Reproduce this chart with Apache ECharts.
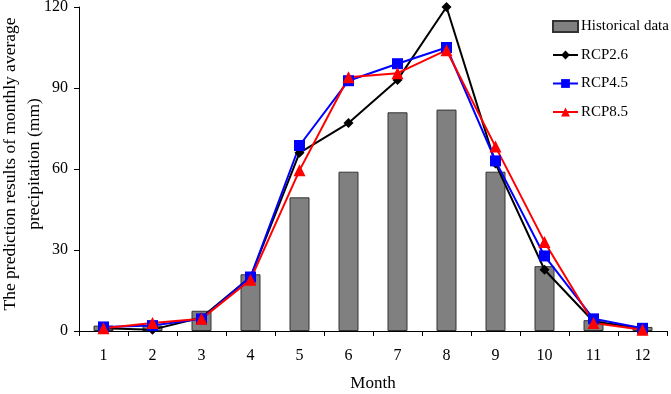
<!DOCTYPE html>
<html>
<head>
<meta charset="utf-8">
<script src="https://cdn.jsdelivr.net/npm/echarts@6/dist/echarts.min.js"></script>
<style>html,body{margin:0;padding:0;background:#fff;}#c{width:671px;height:394px;}</style>
</head>
<body>
<div id="c"></div>
<script>
const months = ['1','2','3','4','5','6','7','8','9','10','11','12'];
const historical = [2, 2, 7.5, 21, 49.5, 59, 81, 82, 59, 24, 4, 1.5];
const rcp26 = [1, 0.5, 5, 20, 66, 77, 93, 120, 62, 22.7, 3.5, 1];
const rcp45 = [1.5, 2, 4.5, 20, 68.7, 92.7, 99, 105, 63, 27.8, 4.5, 1];
const rcp85 = [1, 3, 4.5, 19, 59.5, 94, 95.5, 104, 68.3, 33, 3, 0.5];
const yTicks = [0, 30, 60, 90, 120];

const font = 'Liberation Serif';
const chart = echarts.init(document.getElementById('c'), null, {renderer: 'canvas'});
chart.setOption({
  animation: false,
  backgroundColor: '#fff',
  textStyle: {fontFamily: font, color: '#000'},
  grid: {left: 79, top: 7, right: 4, bottom: 63, containLabel: false, outerBoundsMode: 'none'},
  legend: {
    orient: 'vertical', left: 552, top: 19, padding: 0,
    itemWidth: 25, itemHeight: 11, itemGap: 13.5,
    textStyle: {fontFamily: font, fontSize: 15, color: '#000', padding: [0,0,0,-2]},
    data: [
      {name: 'Historical data', icon: 'rect'},
      {name: 'RCP2.6'}, {name: 'RCP4.5'}, {name: 'RCP8.5'}
    ]
  },
  xAxis: {
    type: 'category', data: months,
    name: 'Month', nameLocation: 'middle', nameGap: 44, nameMoveOverlap: false,
    nameTextStyle: {fontFamily: font, fontSize: 17, color: '#000'},
    axisLine: {lineStyle: {color: '#000', width: 1}},
    axisTick: {show: true, length: 5, inside: false, lineStyle: {color: '#000'}},
    axisLabel: {fontFamily: font, fontSize: 16, color: '#000', margin: 17}
  },
  yAxis: {
    type: 'value', min: 0, max: 120, interval: 30,
    name: 'The prediction results of monthly average\nprecipitation (mm)',
    nameLocation: 'middle', nameGap: 33, nameRotate: 90, nameMoveOverlap: false,
    nameTextStyle: {fontFamily: font, fontSize: 17.5, color: '#000', lineHeight: 24, align: 'center',
      padding: [0, 0, 0, 10]},
    axisLine: {show: true, lineStyle: {color: '#000', width: 1}},
    axisTick: {show: true, length: 5, lineStyle: {color: '#000'}},
    splitLine: {show: false},
    axisLabel: {fontFamily: font, fontSize: 16, color: '#000', margin: 11,
      formatter: v => yTicks.includes(v) ? String(v) : ''}
  },
  series: [
    {name: 'Historical data', type: 'bar', data: historical, barWidth: 20,
      itemStyle: {color: '#808080', borderColor: '#333', borderWidth: 1}},
    {name: 'RCP2.6', type: 'line', data: rcp26, symbol: 'diamond', symbolSize: 10,
      lineStyle: {color: '#000', width: 2}, itemStyle: {color: '#000'}},
    {name: 'RCP4.5', type: 'line', data: rcp45, symbol: 'rect', symbolSize: 11,
      lineStyle: {color: '#0000ff', width: 2}, itemStyle: {color: '#0000ff'}},
    {name: 'RCP8.5', type: 'line', data: rcp85, symbol: 'triangle', symbolSize: 12,
      lineStyle: {color: '#ff0000', width: 2}, itemStyle: {color: '#ff0000'}}
  ]
});
</script>
</body>
</html>
